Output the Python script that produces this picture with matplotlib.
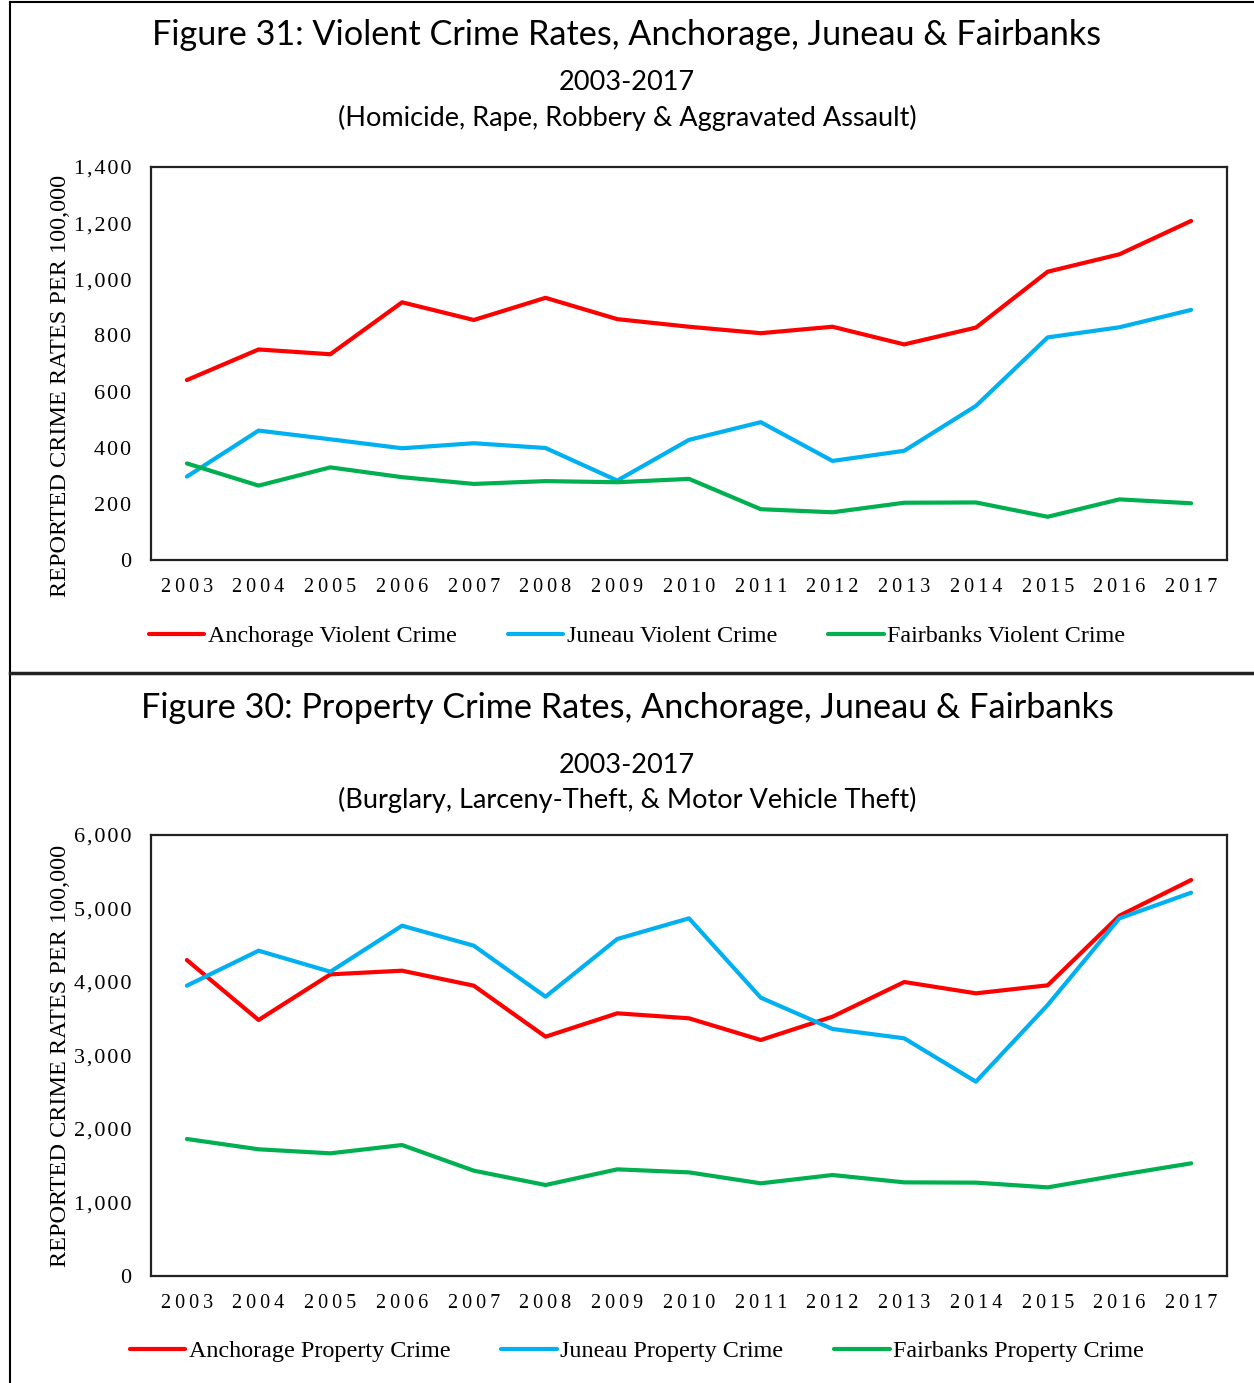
import matplotlib
matplotlib.use("Agg")
import matplotlib.pyplot as plt
from matplotlib.lines import Line2D

years = list(range(2003, 2018))
year_labels = ["\u2009".join(str(y)) for y in years]

# Figure 31 - violent crime rates per 100,000
anchorage_violent = [641, 750, 733, 918, 855, 934, 858, 831, 808, 831, 768, 828, 1027, 1089, 1208]
juneau_violent = [297, 461, 430, 398, 416, 399, 283, 428, 491, 353, 389, 549, 793, 829, 891]
fairbanks_violent = [344, 265, 330, 295, 271, 281, 277, 289, 181, 170, 204, 205, 154, 216, 202]

# Figure 30 - property crime rates per 100,000
anchorage_property = [4299, 3483, 4104, 4154, 3950, 3256, 3574, 3506, 3211, 3528, 4000, 3846, 3955, 4902, 5388]
juneau_property = [3950, 4426, 4140, 4766, 4494, 3800, 4585, 4866, 3787, 3361, 3234, 2644, 3687, 4866, 5215]
fairbanks_property = [1864, 1724, 1669, 1782, 1433, 1238, 1451, 1410, 1261, 1374, 1274, 1270, 1206, 1374, 1533]

RED = "#FF0000"
BLUE = "#00B0F0"
GREEN = "#00B050"
TITLE_FONT = ["Lato", "DejaVu Sans"]
SERIF = ["Liberation Serif", "DejaVu Serif"]

W, H = 1254, 1383
fig = plt.figure(figsize=(W / 100, H / 100), dpi=100)


def fy(py):
    return 1 - py / H


def draw_panel(rect, series, labels, ymax, ystep, legend_y, ylabel_y):
    ax = fig.add_axes(rect)
    x = list(range(len(years)))
    lines = []
    for vals, col in zip(series, [RED, BLUE, GREEN]):
        ln, = ax.plot(x, vals, color=col, lw=3, solid_capstyle="round")
        lines.append(ln)
    ax.set_xlim(-0.5, len(years) - 0.5)
    ax.set_ylim(0, ymax)
    ax.set_xticks(x)
    ax.set_xticklabels(year_labels, fontfamily=SERIF, fontsize=14.5)
    yt = list(range(0, ymax + 1, ystep))
    ax.set_yticks(yt)
    ax.set_yticklabels(["\u200a".join("{:,}".format(v)) for v in yt], fontfamily=SERIF, fontsize=16)
    ax.tick_params(length=0)
    ax.tick_params(axis="y", pad=14)
    ax.tick_params(axis="x", pad=13)
    for s in ax.spines.values():
        s.set_linewidth(1.6)
        s.set_color("#222222")
    ax.set_ylabel("REPORTED CRIME RATES PER 100,000", fontfamily=SERIF, fontsize=17.5)
    ax.yaxis.set_label_coords(-0.0743, ylabel_y)
    leg = fig.legend(lines, labels, loc="center", bbox_to_anchor=(637 / W, fy(legend_y)), ncol=3,
                     frameon=False, prop={"family": SERIF, "size": 17.4}, handlelength=2.3,
                     handletextpad=0.15, columnspacing=2.1)
    for h in leg.get_lines():
        h.set_linewidth(3)
    return ax


# top panel
fig.text(0.5, fy(35), "Figure 31: Violent Crime Rates, Anchorage, Juneau & Fairbanks",
         ha="center", va="center", fontfamily=TITLE_FONT, fontsize=24.7)
fig.text(0.5, fy(82), "2003-2017", ha="center", va="center", fontfamily=TITLE_FONT, fontsize=19.5)
fig.text(0.5, fy(118), "(Homicide, Rape, Robbery & Aggravated Assault)", ha="center", va="center",
         fontfamily=TITLE_FONT, fontsize=19.5)
draw_panel([151 / W, fy(560), 1076 / W, 393 / H],
           [anchorage_violent, juneau_violent, fairbanks_violent],
           ["Anchorage Violent Crime", "Juneau Violent Crime", "Fairbanks Violent Crime"],
           1400, 200, 636, 0.443)

# bottom panel
fig.text(0.5, fy(708), "Figure 30: Property Crime Rates, Anchorage, Juneau & Fairbanks",
         ha="center", va="center", fontfamily=TITLE_FONT, fontsize=24.7)
fig.text(0.5, fy(765), "2003-2017", ha="center", va="center", fontfamily=TITLE_FONT, fontsize=19.5)
fig.text(0.5, fy(800), "(Burglary, Larceny-Theft, & Motor Vehicle Theft)", ha="center", va="center",
         fontfamily=TITLE_FONT, fontsize=19.5)
draw_panel([151 / W, fy(1276), 1076 / W, 441 / H],
           [anchorage_property, juneau_property, fairbanks_property],
           ["Anchorage Property Crime", "Juneau Property Crime", "Fairbanks Property Crime"],
           6000, 1000, 1351, 0.5)

# frame lines around the two figures
fig.add_artist(Line2D([10 / W, 10 / W], [0, fy(2)], color="black", lw=1.5))
fig.add_artist(Line2D([10 / W, 1], [fy(2), fy(2)], color="black", lw=1.5))
fig.add_artist(Line2D([10 / W, 1], [fy(673), fy(673)], color="#222222", lw=2.5))

fig.savefig("out.png", dpi=100)
